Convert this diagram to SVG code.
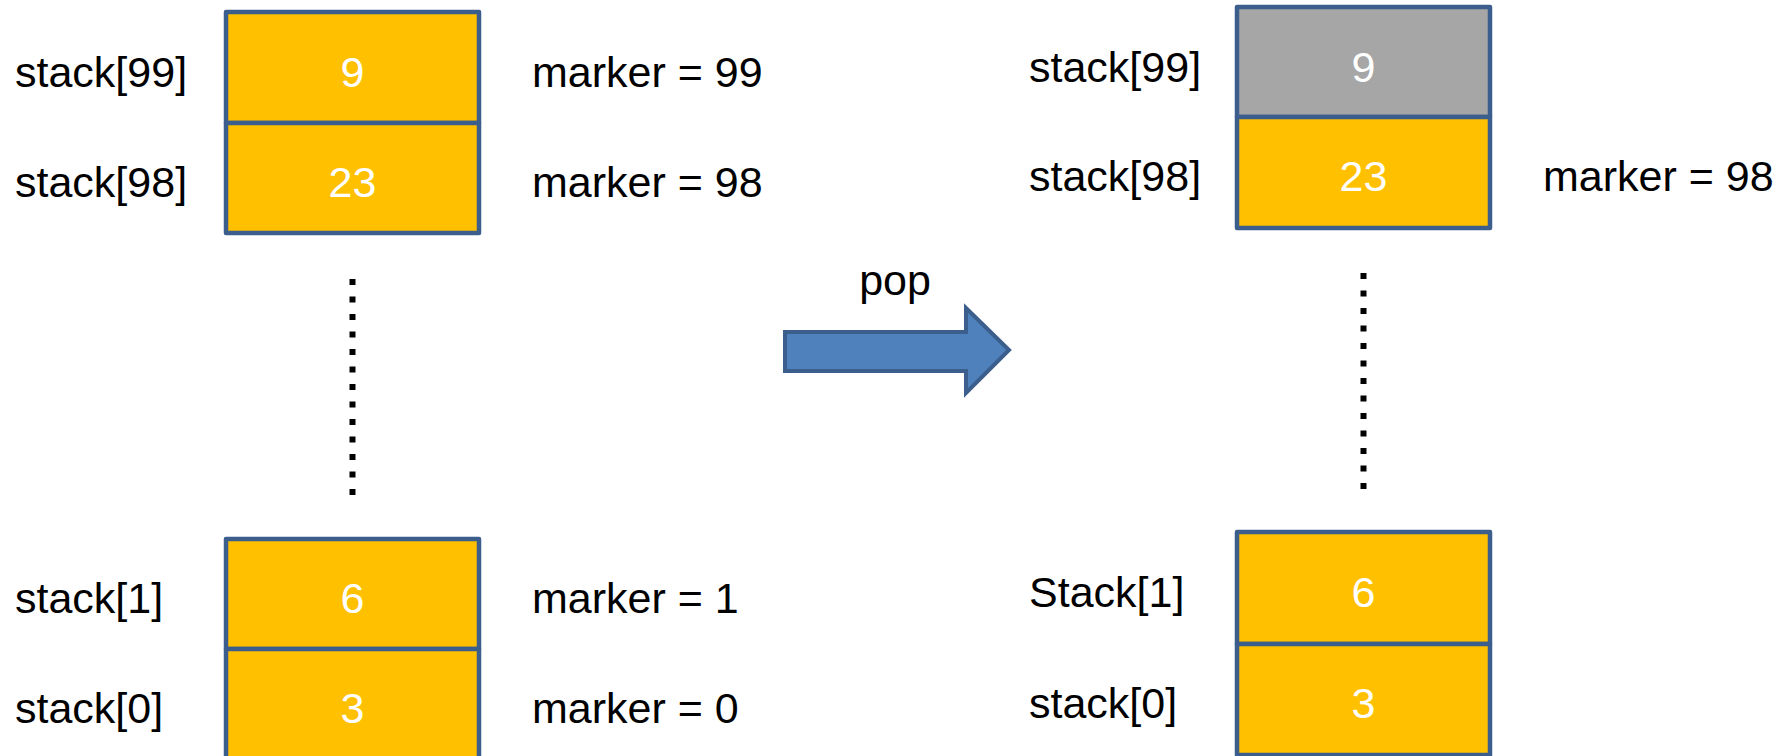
<svg xmlns="http://www.w3.org/2000/svg" width="1783" height="756" viewBox="0 0 1783 756">
  <style>
    .cell { fill: #FFC000; stroke: #3B5E8C; stroke-width: 4.5; stroke-linejoin: round; }
    .cell.popped { fill: #A6A6A6; }
    .val { font-family: "Liberation Sans", Arial, sans-serif; font-size: 43px; fill: #FFFFFF; text-anchor: middle; }
    .lbl { font-family: "Liberation Sans", Arial, sans-serif; font-size: 43px; fill: #000000; }
    .dots { stroke: #000000; stroke-width: 6; stroke-dasharray: 6 11.5; fill: none; }
    .arrow { fill: #4F81BD; stroke: #3B5E8C; stroke-width: 4; stroke-linejoin: miter; }
  </style>

  <rect width="1783" height="756" fill="#FFFFFF"/>

  <!-- Stack before pop -->
  <g id="before-top">
    <rect class="cell" x="226" y="12" width="253" height="111"/>
    <rect class="cell" x="226" y="123" width="253" height="110"/>
    <text class="val" x="352.5" y="87">9</text>
    <text class="val" x="352.5" y="197">23</text>
    <text class="lbl" x="15" y="87">stack[99]</text>
    <text class="lbl" x="15" y="197">stack[98]</text>
    <text class="lbl" x="532" y="87">marker = 99</text>
    <text class="lbl" x="532" y="197">marker = 98</text>
  </g>

  <g id="before-bottom">
    <rect class="cell" x="226" y="539" width="253" height="110"/>
    <rect class="cell" x="226" y="649" width="253" height="112"/>
    <text class="val" x="352.5" y="613">6</text>
    <text class="val" x="352.5" y="723">3</text>
    <text class="lbl" x="15" y="613">stack[1]</text>
    <text class="lbl" x="15" y="723">stack[0]</text>
    <text class="lbl" x="532" y="613">marker = 1</text>
    <text class="lbl" x="532" y="723">marker = 0</text>
  </g>

  <!-- Stack after pop -->
  <g id="after-top">
    <rect class="cell popped" x="1237" y="7" width="253" height="110"/>
    <rect class="cell" x="1237" y="117" width="253" height="111"/>
    <text class="val" x="1363.5" y="82">9</text>
    <text class="val" x="1363.5" y="191">23</text>
    <text class="lbl" x="1029" y="82">stack[99]</text>
    <text class="lbl" x="1029" y="191">stack[98]</text>
    <text class="lbl" x="1543" y="191">marker = 98</text>
  </g>

  <g id="after-bottom">
    <rect class="cell" x="1237" y="532" width="253" height="112"/>
    <rect class="cell" x="1237" y="644" width="253" height="111"/>
    <text class="val" x="1363.5" y="607">6</text>
    <text class="val" x="1363.5" y="718">3</text>
    <text class="lbl" x="1029" y="607">Stack[1]</text>
    <text class="lbl" x="1029" y="718">stack[0]</text>
  </g>

  <!-- Elided middle of each stack and the pop transition -->
  <g id="connectors">
    <line class="dots" x1="352.5" y1="279" x2="352.5" y2="497"/>
    <line class="dots" x1="1363.5" y1="273" x2="1363.5" y2="491"/>
    <polygon class="arrow" points="785,332 966,332 966,308 1009,350 966,393 966,371 785,371"/>
    <text class="lbl" x="895" y="295" text-anchor="middle">pop</text>
  </g>
</svg>
